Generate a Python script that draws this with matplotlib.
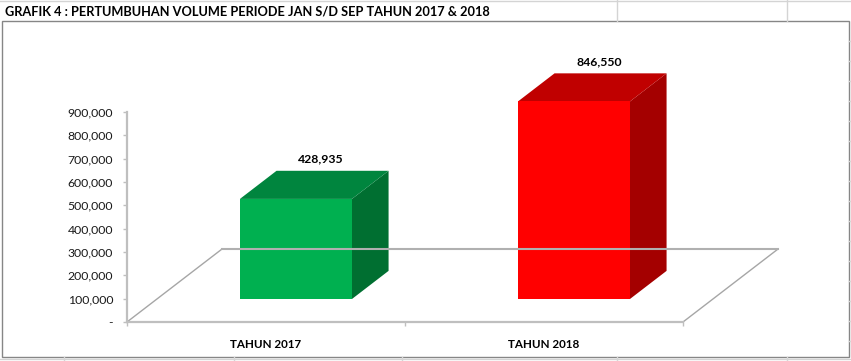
import matplotlib.pyplot as plt
from matplotlib.patches import Polygon
from matplotlib.ticker import FuncFormatter

plt.rcParams['font.family'] = ['Lato', 'DejaVu Sans']

title = "GRAFIK 4 : PERTUMBUHAN VOLUME PERIODE JAN S/D SEP TAHUN 2017 & 2018"
categories = ["TAHUN 2017", "TAHUN 2018"]
volumes = [428935, 846550]
y_ticks = [0, 100000, 200000, 300000, 400000, 500000, 600000, 700000, 800000, 900000]
front_colors = ["#00B050", "#FF0000"]
top_colors = ["#00853E", "#C00000"]
side_colors = ["#006F31", "#A40000"]

W, H = 851, 361
fig = plt.figure(figsize=(W / 100, H / 100), dpi=100)

# spreadsheet background in pixel coords
bg = fig.add_axes([0, 0, 1, 1])
bg.set_xlim(0, W)
bg.set_ylim(H, 0)
bg.axis('off')
sheet = '#D4D4D4'
bg.plot([0, W], [0.5, 0.5], color=sheet, lw=1)
bg.plot([0, W], [358.5, 358.5], color=sheet, lw=1)
for x in [617, 787]:
    bg.plot([x, x], [0, 21], color=sheet, lw=1)
for x in [64, 234, 402, 617, 787]:
    bg.plot([x, x], [357, H], color=sheet, lw=1)
for y in range(41, 357, 20):
    bg.plot([849, W], [y, y], color=sheet, lw=1)
bg.add_patch(plt.Rectangle((1.5, 21), 847, 335.5, fill=True, facecolor='white',
                           edgecolor='#868686', lw=1))
bg.text(5, 12, title, fontsize=9.2, fontweight='bold', ha='left', va='center', color='black')

# plot area: front plane of the 3d chart
ax = fig.add_axes([127 / W, (H - 322) / H, (683 - 127) / W, (322 - 112) / H])
ax.patch.set_alpha(0)
ax.set_xlim(0, len(categories))
ax.set_ylim(0, 900000)

depth_x = 0.342      # floor depth, category units
depth_y = 313000     # floor depth, value units
bar_w = 0.403
f0, f1 = 0.315, 0.70  # bar position inside the floor depth

for s in ['top', 'right']:
    ax.spines[s].set_visible(False)
for s in ['left', 'bottom']:
    ax.spines[s].set_color('#BFBFBF')
    ax.spines[s].set_linewidth(1.6)

ax.set_yticks(y_ticks)
ax.yaxis.set_major_formatter(FuncFormatter(lambda v, p: '-' if v == 0 else f'{v:,.0f}'))
ax.tick_params(axis='y', direction='out', length=3, width=1, color='#BFBFBF', pad=7,
               labelsize=8.8, labelcolor='#1a1a1a')

ax.set_xticks([i + 0.5 for i in range(len(categories))])
ax.set_xticklabels(categories, fontweight='bold')
ax.set_xticks(range(len(categories) + 1), minor=True)
ax.tick_params(axis='x', which='major', length=0, pad=12, labelsize=8.4, labelcolor='black')
ax.tick_params(axis='x', which='minor', length=3, width=1, color='#BFBFBF', direction='out')

# floor
n = len(categories)
floor_col = '#A6A6A6'
ax.plot([0, depth_x], [0, depth_y], color=floor_col, lw=1, clip_on=False)
ax.plot([n, n + depth_x], [0, depth_y], color=floor_col, lw=1, clip_on=False)
ax.plot([depth_x, n + depth_x], [depth_y, depth_y], color='#B0B0B0', lw=1.5, clip_on=False)

for i, v in enumerate(volumes):
    c = i + 0.5
    x0 = c - bar_w / 2 + f0 * depth_x
    x1 = x0 + bar_w
    yb = f0 * depth_y
    yt = yb + v
    ddx = (f1 - f0) * depth_x
    ddy = (f1 - f0) * depth_y
    side = Polygon([(x1, yb), (x1 + ddx, yb + ddy), (x1 + ddx, yt + ddy), (x1, yt)],
                   closed=True, facecolor=side_colors[i], edgecolor='none', clip_on=False)
    top = Polygon([(x0, yt), (x1, yt), (x1 + ddx, yt + ddy), (x0 + ddx, yt + ddy)],
                  closed=True, facecolor=top_colors[i], edgecolor='none', clip_on=False)
    front = Polygon([(x0, yb), (x1, yb), (x1, yt), (x0, yt)],
                    closed=True, facecolor=front_colors[i], edgecolor='none', clip_on=False)
    for p in (side, top, front):
        ax.add_patch(p)
    ax.annotate(f'{v:,.0f}', (c + 0.58 * depth_x, yt + ddy),
                xytext=(0, 8.6), textcoords='offset points', ha='center', va='center',
                fontsize=8.8, fontweight='bold', color='black', annotation_clip=False)

fig.savefig('out.png', dpi=100)
